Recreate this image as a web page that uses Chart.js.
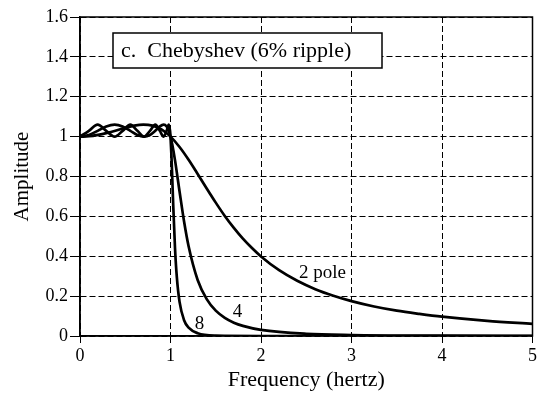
<!DOCTYPE html>
<html>
<head>
<meta charset="utf-8">
<script src="https://cdn.jsdelivr.net/npm/chart.js@4/dist/chart.umd.min.js"></script>
<style>
  body { margin: 0; background: #fff; }
  canvas { display: block; }
</style>
</head>
<body>
<canvas id="myChart" width="539" height="395"></canvas>
<script>
// values
var freq2 = [0, 0.1, 0.2, 0.3, 0.4, 0.5, 0.6, 0.7, 0.8, 0.9, 1.0, 1.1, 1.2, 1.3, 1.4, 1.5, 1.6, 1.7, 1.8, 1.9,
             2.0, 2.2, 2.4, 2.6, 2.8, 3.0, 3.25, 3.5, 3.75, 4.0, 4.5, 5.0]
var amp2 = [1.0, 1.002, 1.009, 1.019, 1.031, 1.044, 1.055, 1.06, 1.055, 1.036, 1.0, 0.948, 0.884, 0.813, 0.740, 0.669, 0.602, 0.542, 0.488, 0.441,
            0.399, 0.330, 0.277, 0.235, 0.202, 0.175, 0.148, 0.127, 0.111, 0.097, 0.076, 0.061]

var freq4 = [0, 0.098, 0.195, 0.29, 0.383, 0.471, 0.556, 0.634, 0.707, 0.773, 0.832, 0.882, 0.924, 0.957, 0.981, 0.995, 1.0,
             1.02, 1.05, 1.1, 1.15, 1.2, 1.3, 1.4, 1.5, 1.6, 1.7, 1.8, 2.0, 2.5, 3.0, 4.0, 5.0]
var amp4 = [1.0, 1.008, 1.029, 1.051, 1.06, 1.051, 1.029, 1.008, 1.0, 1.008, 1.029, 1.051, 1.06, 1.051, 1.029, 1.008, 1.0,
            0.959, 0.881, 0.725, 0.574, 0.450, 0.281, 0.185, 0.127, 0.091, 0.067, 0.051, 0.031, 0.011, 0.005, 0.002, 0.001]

var freq8 = [0, 0.098, 0.195, 0.29, 0.383, 0.471, 0.556, 0.634, 0.707, 0.773, 0.832, 0.882, 0.924, 0.957, 0.981, 0.995, 1.0,
             1.01, 1.02, 1.03, 1.05, 1.07, 1.1, 1.15, 1.2, 1.3, 1.5, 2.0, 3.0, 5.0]
var amp8 = [1.0, 1.029, 1.06, 1.029, 1.0, 1.029, 1.06, 1.029, 1.0, 1.029, 1.06, 1.029, 1.0, 1.029, 1.06, 1.029, 1.0,
            0.909, 0.786, 0.657, 0.439, 0.295, 0.171, 0.079, 0.042, 0.014, 0.002, 0, 0, 0]

var xTicks = [0, 1, 2, 3, 4, 5]
var yTicks = [0, 0.2, 0.4, 0.6, 0.8, 1, 1.2, 1.4, 1.6]

var curveLabels = ['2 pole', '4', '8']
var curveLabelPos = [[2.68, 0.316], [1.74, 0.12], [1.32, 0.06]]
var panelTitle = 'c.  Chebyshev (6% ripple)'

var serif = "'Liberation Serif', 'Times New Roman', serif"

function toPoints(xs, ys) {
    return xs.map(function (x, i) { return {x: x, y: ys[i]} })
}

function curve(xs, ys) {
    return {
        data: toPoints(xs, ys),
        borderColor: '#000',
        borderWidth: 2.7,
        pointRadius: 0,
        fill: false,
        cubicInterpolationMode: 'monotone'
    }
}

var extras = {
    id: 'extras',
    afterDatasetsDraw: function (chart) {
        var ctx = chart.ctx
        var a = chart.chartArea
        var xs = chart.scales.x, ys = chart.scales.y
        ctx.save()
        // frame round the plot
        ctx.strokeStyle = '#000'
        ctx.lineWidth = 1.5
        ctx.strokeRect(a.left, a.top, a.right - a.left, a.bottom - a.top)

        // curve labels
        ctx.fillStyle = '#000'
        ctx.font = '19px ' + serif
        ctx.textAlign = 'center'
        ctx.textBaseline = 'middle'
        curveLabels.forEach(function (t, i) {
            ctx.fillText(t, xs.getPixelForValue(curveLabelPos[i][0]), ys.getPixelForValue(curveLabelPos[i][1]))
        })

        // panel title box
        var bx = a.left + 33, by = a.top + 16, bw = 269, bh = 35
        ctx.fillStyle = '#fff'
        ctx.fillRect(bx, by, bw, bh)
        ctx.lineWidth = 1.5
        ctx.strokeRect(bx, by, bw, bh)
        ctx.fillStyle = '#000'
        ctx.font = '22px ' + serif
        ctx.textAlign = 'left'
        ctx.textBaseline = 'alphabetic'
        ctx.fillText(panelTitle, bx + 8, by + 24)
        ctx.restore()
    }
}

var ctx = document.getElementById('myChart')
var myChart = new Chart(ctx, {
    type: 'line',
    data: {
        datasets: [curve(freq2, amp2), curve(freq4, amp4), curve(freq8, amp8)]
    },
    plugins: [extras],
    options: {
        responsive: false,
        animation: false,
        layout: {padding: {top: 17, right: 6, left: 0, bottom: 0}},
        plugins: {legend: {display: false}, tooltip: {enabled: false}},
        scales: {
            x: {
                type: 'linear',
                min: 0, max: 5,
                afterBuildTicks: function (s) { s.ticks = xTicks.map(function (v) { return {value: v} }) },
                afterFit: function (s) { s.height = 59 },
                grid: {color: '#000', lineWidth: 1, tickLength: 7, tickColor: '#000'},
                border: {display: true, color: '#000', width: 1.5, dash: [6, 3]},
                ticks: {color: '#000', font: {family: serif, size: 18}, padding: 2, maxRotation: 0},
                title: {display: true, text: 'Frequency (hertz)', color: '#000',
                        font: {family: serif, size: 22}, padding: {top: 0, bottom: 2}}
            },
            y: {
                min: 0, max: 1.6,
                afterBuildTicks: function (s) { s.ticks = yTicks.map(function (v) { return {value: v} }) },
                afterFit: function (s) { s.width = 80 },
                grid: {color: '#000', lineWidth: 1, tickLength: 10, tickColor: '#000'},
                border: {display: true, color: '#000', width: 1.5, dash: [6, 3]},
                ticks: {color: '#000', font: {family: serif, size: 18}, padding: 2,
                        callback: function (v) { return String(Number(v.toFixed(1))) }},
                title: {display: true, text: 'Amplitude', color: '#000',
                        font: {family: serif, size: 21}, padding: {top: 10, bottom: 0}}
            }
        }
    }
})
</script>
</body>
</html>
